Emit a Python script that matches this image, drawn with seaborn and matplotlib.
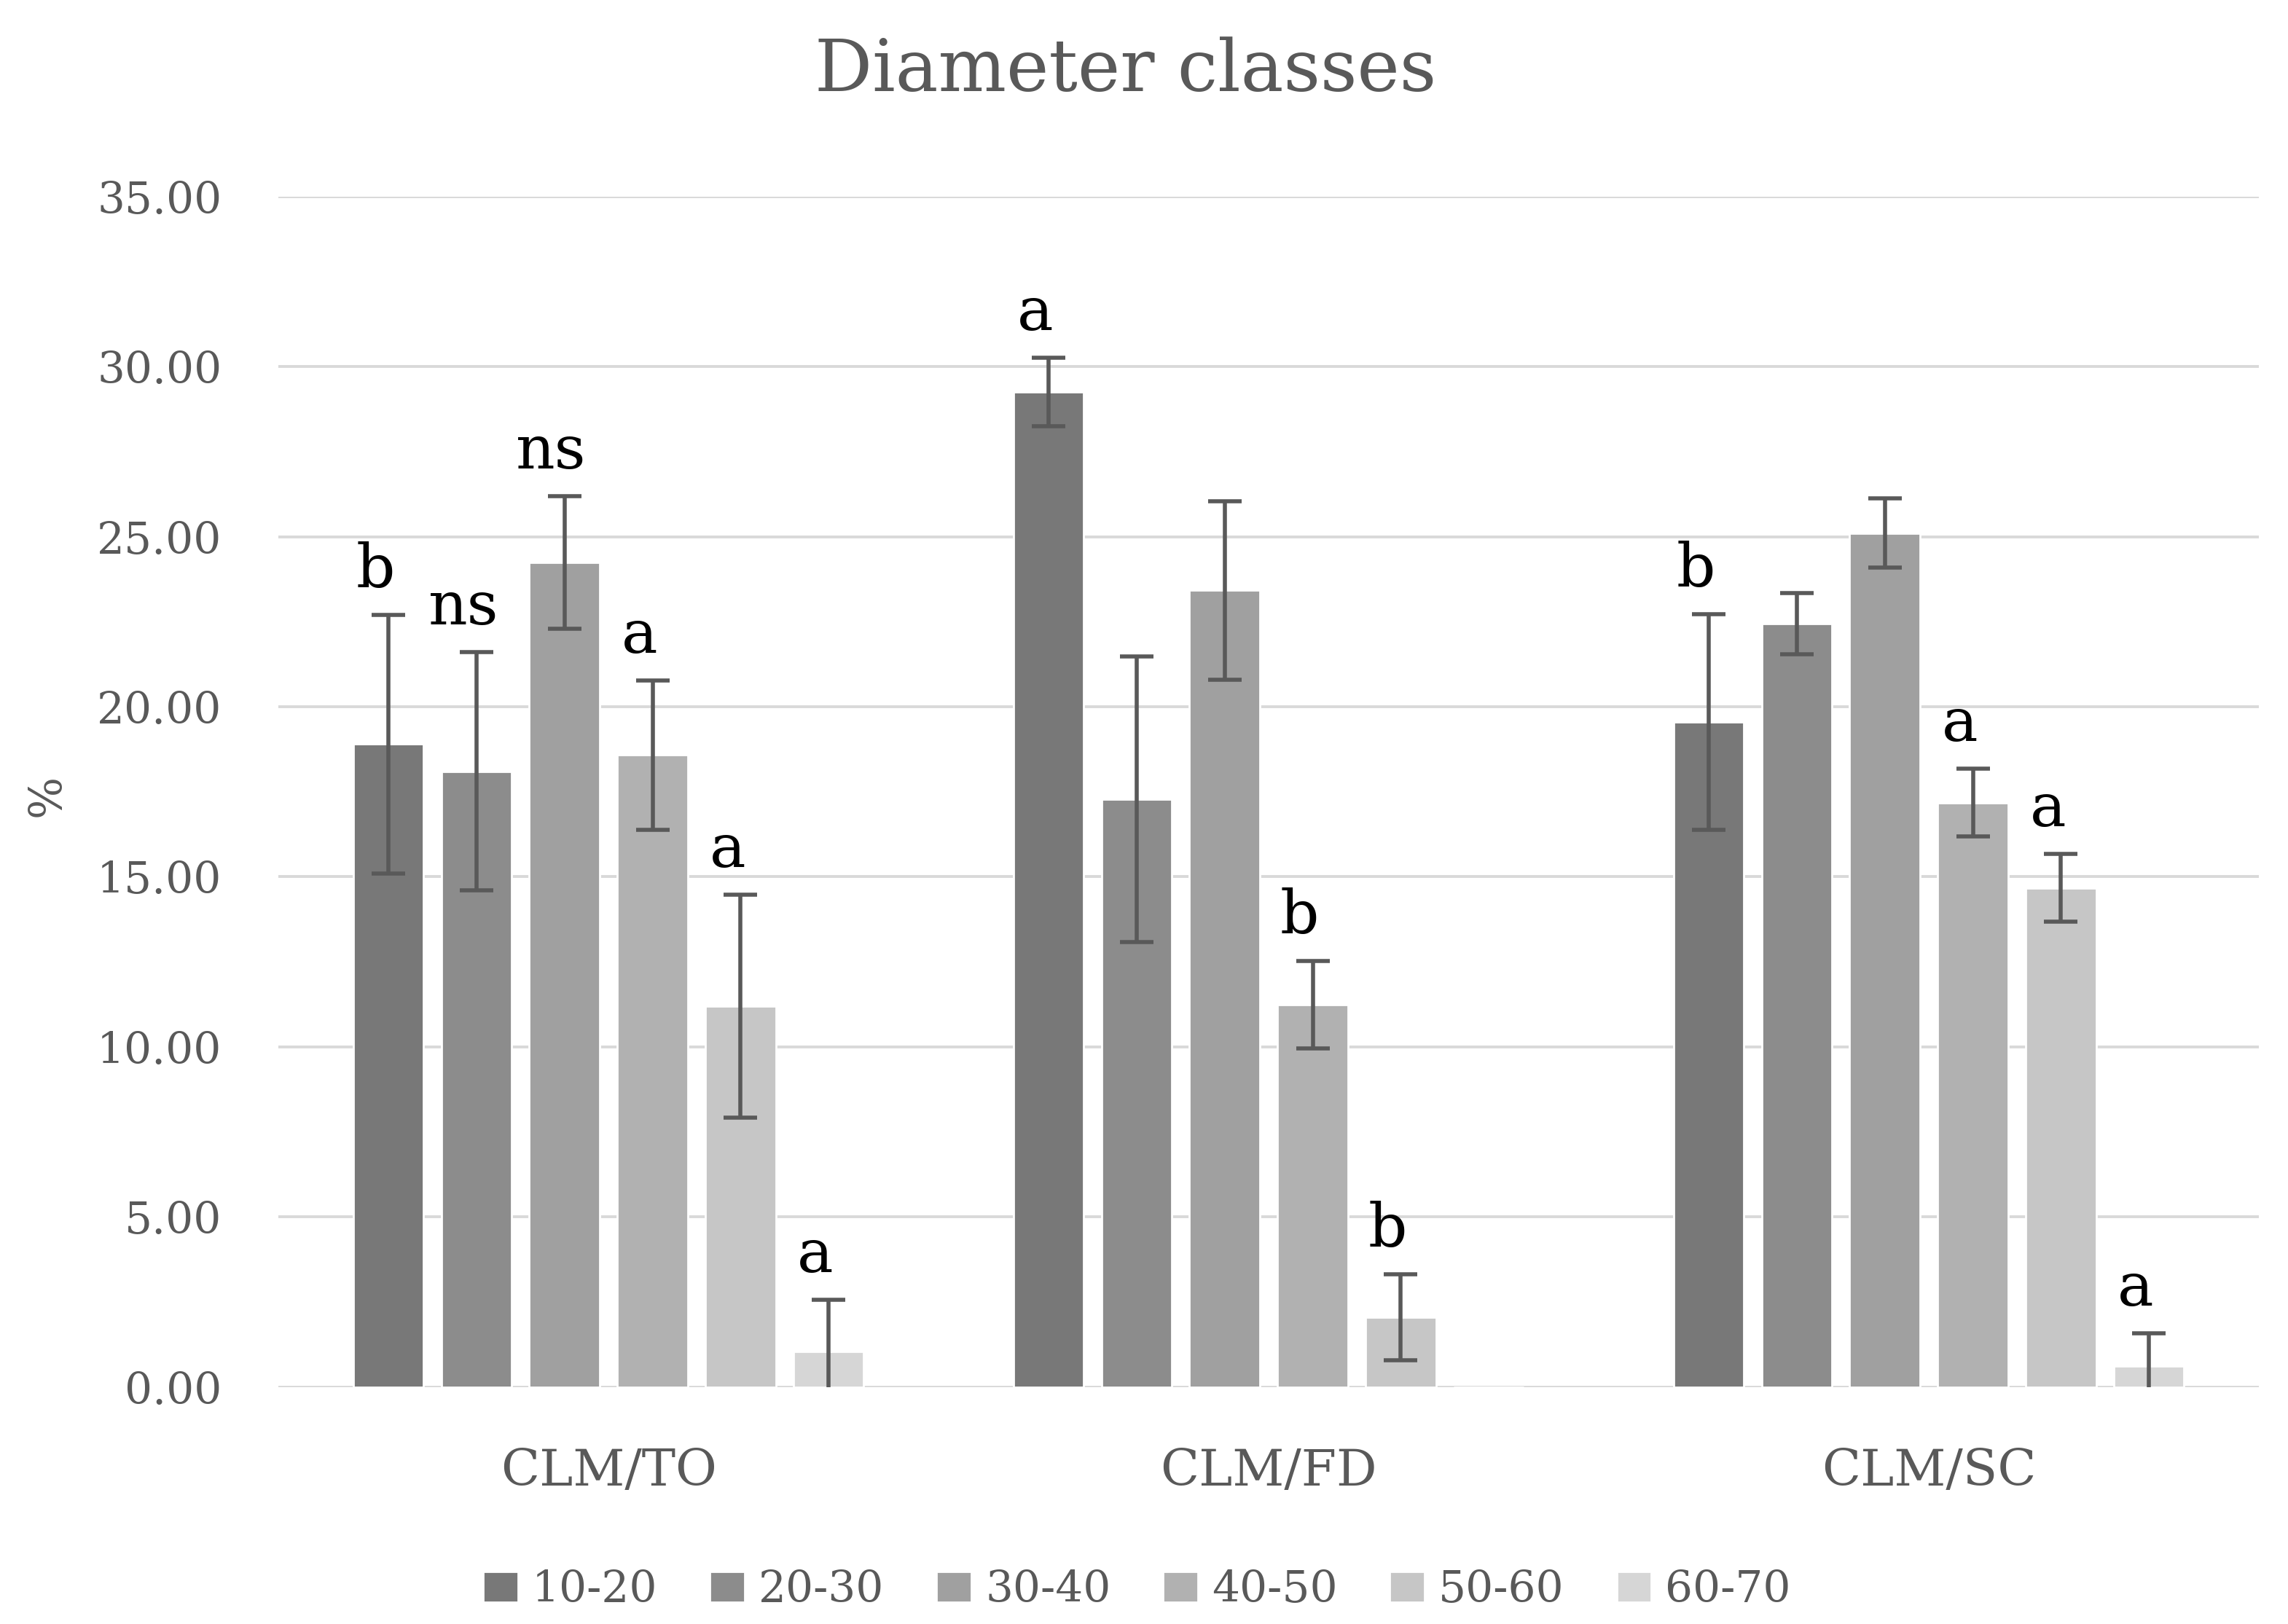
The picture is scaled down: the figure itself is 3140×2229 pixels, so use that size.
import numpy as np
import pandas as pd
import matplotlib
matplotlib.use("Agg")
import matplotlib.pyplot as plt
import seaborn as sns

# data
sites = ["CLM/TO", "CLM/FD", "CLM/SC"]
classes = ["10-20", "20-30", "30-40", "40-50", "50-60", "60-70"]
mean_to = [18.90, 18.10, 24.25, 18.58, 11.20, 1.05]
mean_fd = [29.25, 17.28, 23.42, 11.24, 2.05, 0.0]
mean_sc = [19.55, 22.44, 25.10, 17.18, 14.67, 0.62]
err_to = [3.80, 3.50, 1.95, 2.20, 3.28, 1.52]
err_fd = [1.00, 4.20, 2.63, 1.29, 1.27, np.nan]
err_sc = [3.17, 0.90, 1.02, 1.00, 1.00, 0.96]
letters_to = ["b", "ns", "ns", "a", "a", "a"]
letters_fd = ["a", "", "", "b", "b", ""]
letters_sc = ["b", "", "", "a", "a", "a"]

colors = ["#787878", "#8c8c8c", "#a0a0a0", "#b1b1b1", "#c6c6c6", "#d6d6d6"]

rows = []
for site, means, errs, lets in zip(sites, [mean_to, mean_fd, mean_sc],
                                   [err_to, err_fd, err_sc],
                                   [letters_to, letters_fd, letters_sc]):
    for c, m, e, l in zip(classes, means, errs, lets):
        rows.append({"site": site, "cls": c, "value": m, "err": e, "letter": l})
df = pd.DataFrame(rows)

sns.set_style("white")
plt.rcParams["font.family"] = ["DejaVu Serif"]

fig = plt.figure(figsize=(15.7, 11.145), dpi=200)
ax = fig.add_axes([0.1217, 0.146, 0.8656, 0.733])

sns.barplot(data=df, x="site", y="value", hue="cls", order=sites,
            hue_order=classes, palette=colors, width=0.8, gap=0.2,
            errorbar=None, saturation=1, ax=ax)

# error bars and significance letters, one per bar (patches go hue by hue)
bars = [p for p in ax.patches if p.get_width() > 0][:len(df)]
for j, c in enumerate(classes):
    for i, site in enumerate(sites):
        p = bars[j * len(sites) + i]
        row = df[(df.site == site) & (df.cls == c)].iloc[0]
        xc = p.get_x() + p.get_width() / 2
        if not np.isnan(row.err):
            ax.errorbar(xc, row.value, yerr=row.err, color="#595959",
                        elinewidth=2.0, capsize=8.3, capthick=2.0)
            top = row.value + row.err
        else:
            top = row.value
        if row.letter:
            ax.text(xc - 0.02, top + 0.45, row.letter, ha="center", va="bottom",
                    fontsize=30, color="black")

ax.set_xlim(-0.5, 2.5)
ax.set_ylim(0, 35)
ax.set_yticks(np.arange(0, 36, 5))
ax.set_yticklabels([f"{v:.2f}" for v in np.arange(0, 36, 5)])
ax.yaxis.grid(True, color="#d9d9d9", linewidth=1.4)
ax.set_axisbelow(True)
for s in ax.spines.values():
    s.set_visible(False)
ax.tick_params(axis="y", length=0, labelsize=21.5, colors="#595959", pad=28)
ax.tick_params(axis="x", length=0, labelsize=25, colors="#595959", pad=30)
ax.set_xlabel("")
ax.set_ylabel("")
fig.text(0.0205, 0.51, "%", rotation=90, fontsize=22, color="#595959",
         ha="center", va="center")

fig.text(0.492, 0.956, "Diameter classes", fontsize=35.5, color="#595959",
         ha="center", va="center")

handles, labels = ax.get_legend_handles_labels()
ax.legend_.remove()
fig.legend(handles, labels, loc="center", bbox_to_anchor=(0.497, 0.021),
           ncol=6, frameon=False, fontsize=21.5, handlelength=0.8,
           handleheight=0.7, handletextpad=0.32, columnspacing=1.2,
           labelcolor="#595959")

fig.savefig("out.png", dpi=200)
